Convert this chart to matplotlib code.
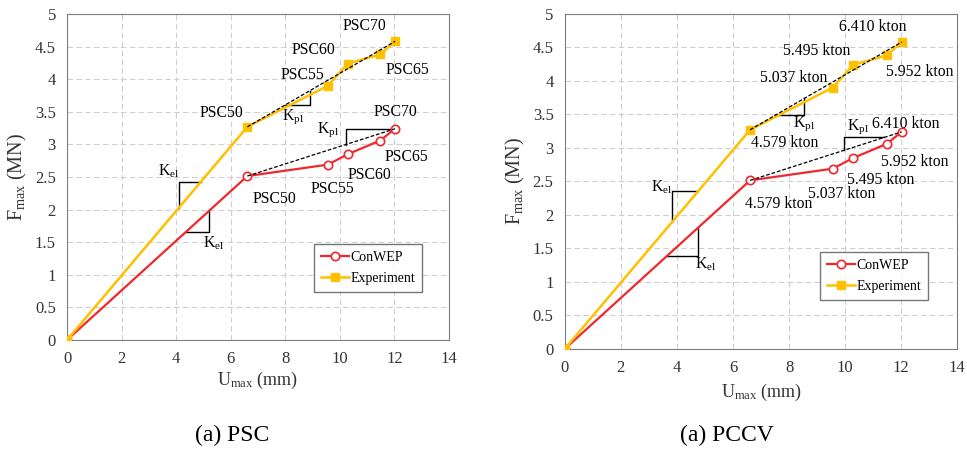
"""Fmax vs Umax for PSC and PCCV cases: ConWEP vs experiment."""
import numpy as np
import matplotlib
matplotlib.use("Agg")
import matplotlib.pyplot as plt

plt.rcParams["font.family"] = ["Liberation Serif", "DejaVu Serif"]
plt.rcParams["mathtext.fontset"] = "custom"
plt.rcParams["mathtext.rm"] = "Liberation Serif"
plt.rcParams["mathtext.it"] = "Liberation Serif:italic"

# data (same displacements for both panels)
u_max = [0.0, 6.61, 9.56, 10.29, 11.48, 12.02]
f_conwep = [0.0, 2.515, 2.69, 2.85, 3.06, 3.24]
f_experiment = [0.0, 3.27, 3.90, 4.24, 4.38, 4.58]

psc_labels = ["PSC50", "PSC55", "PSC60", "PSC65", "PSC70"]
pccv_labels = ["4.579 kton", "5.037 kton", "5.495 kton", "5.952 kton", "6.410 kton"]

RED = "#f0282d"
GOLD = "#ffc000"
FS = 11.3

# text positions of point labels (x, y) in data units, per panel
PSC_EXP_POS = [(5.67, 3.48), (8.62, 4.06), (9.02, 4.45), (12.46, 4.14), (10.9, 4.82)]
PSC_CON_POS = [(7.59, 2.16), (9.73, 2.31), (11.1, 2.53), (12.44, 2.81), (12.04, 3.49)]
PCCV_EXP_POS = [(7.83, 3.08), (8.18, 4.05), (8.99, 4.44), (12.66, 4.13), (11.0, 4.81)]
PCCV_CON_POS = [(7.63, 2.16), (9.88, 2.31), (11.27, 2.52), (12.49, 2.79), (12.16, 3.36)]


def slope_mark(ax, xs, ys, x1, x2, upper):
    """Draw a slope triangle on the curve (xs, ys) between x1 and x2."""
    y1 = np.interp(x1, xs, ys)
    y2 = np.interp(x2, xs, ys)
    if upper:
        px, py = [x1, x1, x2], [y1, y2, y2]
    else:
        px, py = [x1, x2, x2], [y1, y1, y2]
    ax.plot(px, py, color="black", lw=1.0, zorder=2)


def panel(ax, labels, exp_pos, con_pos, cfg):
    ax.plot(u_max, f_conwep, "-o", color=RED, lw=1.6, ms=6, mfc="white",
            mec=RED, mew=1.2, label="ConWEP", zorder=4)
    ax.plot(u_max, f_experiment, "-s", color=GOLD, lw=1.8, ms=6, mfc=GOLD,
            mec=GOLD, label="Experiment", zorder=5)

    # plastic stiffness dashed lines (first to last blast point)
    dash_con = ([u_max[1], u_max[-1]], [f_conwep[1], f_conwep[-1]])
    dash_exp = ([u_max[1], u_max[-1]], [f_experiment[1], f_experiment[-1]])
    for dx, dy in (dash_con, dash_exp):
        ax.plot(dx, dy, color="black", lw=0.9, ls=(0, (3, 1.5)), zorder=6)

    # slope triangles
    slope_mark(ax, u_max, f_experiment, *cfg["kel_exp"], upper=True)
    slope_mark(ax, u_max, f_conwep, *cfg["kel_con"], upper=False)
    slope_mark(ax, *dash_exp, *cfg["kpl_exp"], upper=False)
    slope_mark(ax, *dash_con, *cfg["kpl_con"], upper=True)
    for key, (tx, ty) in cfg["ktext"].items():
        txt = r"K$_{\mathrm{el}}$" if key.startswith("el") else r"K$_{\mathrm{pl}}$"
        ax.text(tx, ty, txt, fontsize=FS, ha="center", va="center")

    for lab, (tx, ty) in zip(labels, exp_pos):
        ax.text(tx, ty, lab, fontsize=FS, ha="center", va="center")
    for lab, (tx, ty) in zip(labels, con_pos):
        ax.text(tx, ty, lab, fontsize=FS, ha="center", va="center")

    ax.set_xlim(0, 14)
    ax.set_ylim(0, 5)
    ax.set_xticks(np.arange(0, 15, 2))
    ax.set_yticks(np.arange(0, 5.01, 0.5))
    ax.set_yticklabels(["0", "0.5", "1", "1.5", "2", "2.5", "3", "3.5", "4", "4.5", "5"])
    ax.tick_params(length=0, labelsize=12, colors="#333333", pad=8)
    ax.grid(True, color="#cfcfcf", ls=(0, (5, 3)), lw=0.8)
    for sp in ax.spines.values():
        sp.set_color("#7f7f7f")
    ax.set_xlabel(r"U$_{\mathrm{max}}$ (mm)", fontsize=13, color="#333333",
                  labelpad=cfg["xpad"])
    ax.set_ylabel(r"F$_{\mathrm{max}}$ (MN)", fontsize=14.5, color="#333333")
    leg = ax.legend(loc="lower right", bbox_to_anchor=cfg["leg"], fontsize=10,
                    frameon=True, fancybox=False, edgecolor="#555555",
                    handlelength=2.0, handletextpad=0.1, borderpad=0.5,
                    labelspacing=0.6, borderaxespad=0.0)
    leg.get_frame().set_linewidth(1.0)


fig = plt.figure(figsize=(9.67, 4.61), dpi=100)
ax1 = fig.add_axes([0.0693, 0.2625, 0.395, 0.707])
ax2 = fig.add_axes([0.584, 0.243, 0.406, 0.727])

panel(ax1, psc_labels, PSC_EXP_POS, PSC_CON_POS, {
    "kel_exp": (4.09, 4.91), "kel_con": (4.35, 5.22),
    "kpl_exp": (7.99, 8.90), "kpl_con": (10.22, 12.02),
    "ktext": {"el_e": (3.72, 2.59), "el_c": (5.37, 1.49),
              "pl_e": (8.29, 3.43), "pl_c": (9.57, 3.22)},
    "leg": (0.93, 0.147), "xpad": 2,
})
panel(ax2, pccv_labels, PCCV_EXP_POS, PCCV_CON_POS, {
    "kel_exp": (3.82, 4.77), "kel_con": (3.65, 4.75),
    "kpl_exp": (7.51, 8.54), "kpl_con": (9.96, 11.39),
    "ktext": {"el_e": (3.44, 2.41), "el_c": (5.02, 1.27),
              "pl_e": (8.54, 3.36), "pl_c": (10.47, 3.32)},
    "leg": (0.926, 0.146), "xpad": 4,
})

fig.text(0.240, 0.056, "(a) PSC", fontsize=17, ha="center", va="center")
fig.text(0.752, 0.056, "(a) PCCV", fontsize=17, ha="center", va="center")

fig.savefig("out.png", dpi=100)
